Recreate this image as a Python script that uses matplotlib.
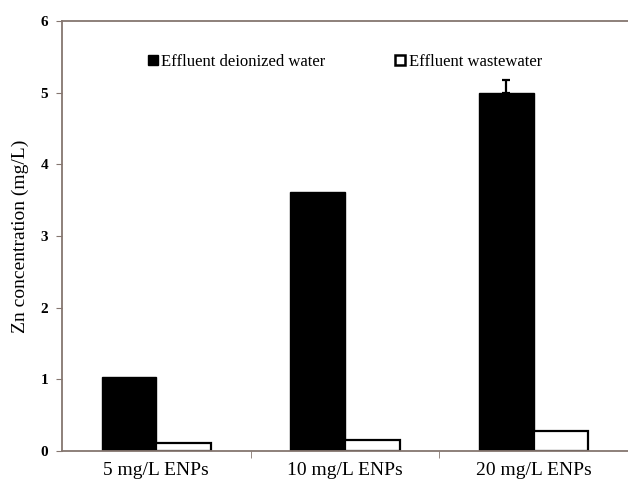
import matplotlib
matplotlib.use('Agg')
from matplotlib import pyplot as plt
from matplotlib.patches import Patch
import numpy as np

categories = ['5 mg/L ENPs', '10 mg/L ENPs', '20 mg/L ENPs']
deionized = [1.03, 3.62, 4.99]
deionized_err_up = [0.0, 0.0, 0.19]
wastewater = [0.11, 0.15, 0.28]
series_names = ['Effluent deionized water', 'Effluent wastewater']
y_ticks = [0, 1, 2, 3, 4, 5, 6]

plt.rcParams['font.family'] = ['Liberation Serif', 'DejaVu Serif']
axis_col = '#85766f'

fig = plt.figure(figsize=(6.28, 4.82), dpi=100)
ax = fig.add_axes([0.0987, 0.0643, 0.9013, 0.8920])

x = np.arange(len(categories))
w = 0.29
ax.bar(x - w / 2, deionized, w, color='black', edgecolor='black', linewidth=1)
ax.bar(x + w / 2, wastewater, w, color='white', edgecolor='black', linewidth=1.6)

# only the bars that have an error get a whisker (upper side only)
for i in range(len(deionized)):
    if deionized_err_up[i] > 0:
        ax.errorbar(x[i] - w / 2, deionized[i], yerr=[[0], [deionized_err_up[i]]],
                    fmt='none', ecolor='black', elinewidth=1.6, capsize=3, capthick=1.6)

ax.set_xlim(-0.5, 2.5)
ax.set_ylim(0, 6)
ax.set_yticks(y_ticks)
ax.set_xticks(x)
ax.set_xticklabels(categories, fontsize=14)
ax.set_xticks(x[:-1] + 0.5, minor=True)
ax.tick_params(axis='x', which='major', length=0, pad=8)
ax.tick_params(axis='x', which='minor', length=5, direction='out', color=axis_col)
ax.tick_params(axis='y', labelsize=11, length=4, direction='out', color=axis_col, pad=6)
for lab in ax.get_yticklabels():
    lab.set_fontweight('bold')
ax.set_ylabel('Zn concentration (mg/L)', fontsize=14, labelpad=8)

ax.spines['right'].set_visible(False)
for s in ['left', 'top', 'bottom']:
    ax.spines[s].set_color(axis_col)
    ax.spines[s].set_linewidth(1.3)

handles = [Patch(facecolor='black', edgecolor='black'),
           Patch(facecolor='white', edgecolor='black', linewidth=1.8)]
ax.legend(handles, series_names, loc='center', bbox_to_anchor=(0.5, 0.905), ncol=2,
          frameon=False, fontsize=12, handlelength=0.6, handleheight=0.6,
          handletextpad=0.2, columnspacing=4.2)

fig.savefig('out.png', dpi=100)
